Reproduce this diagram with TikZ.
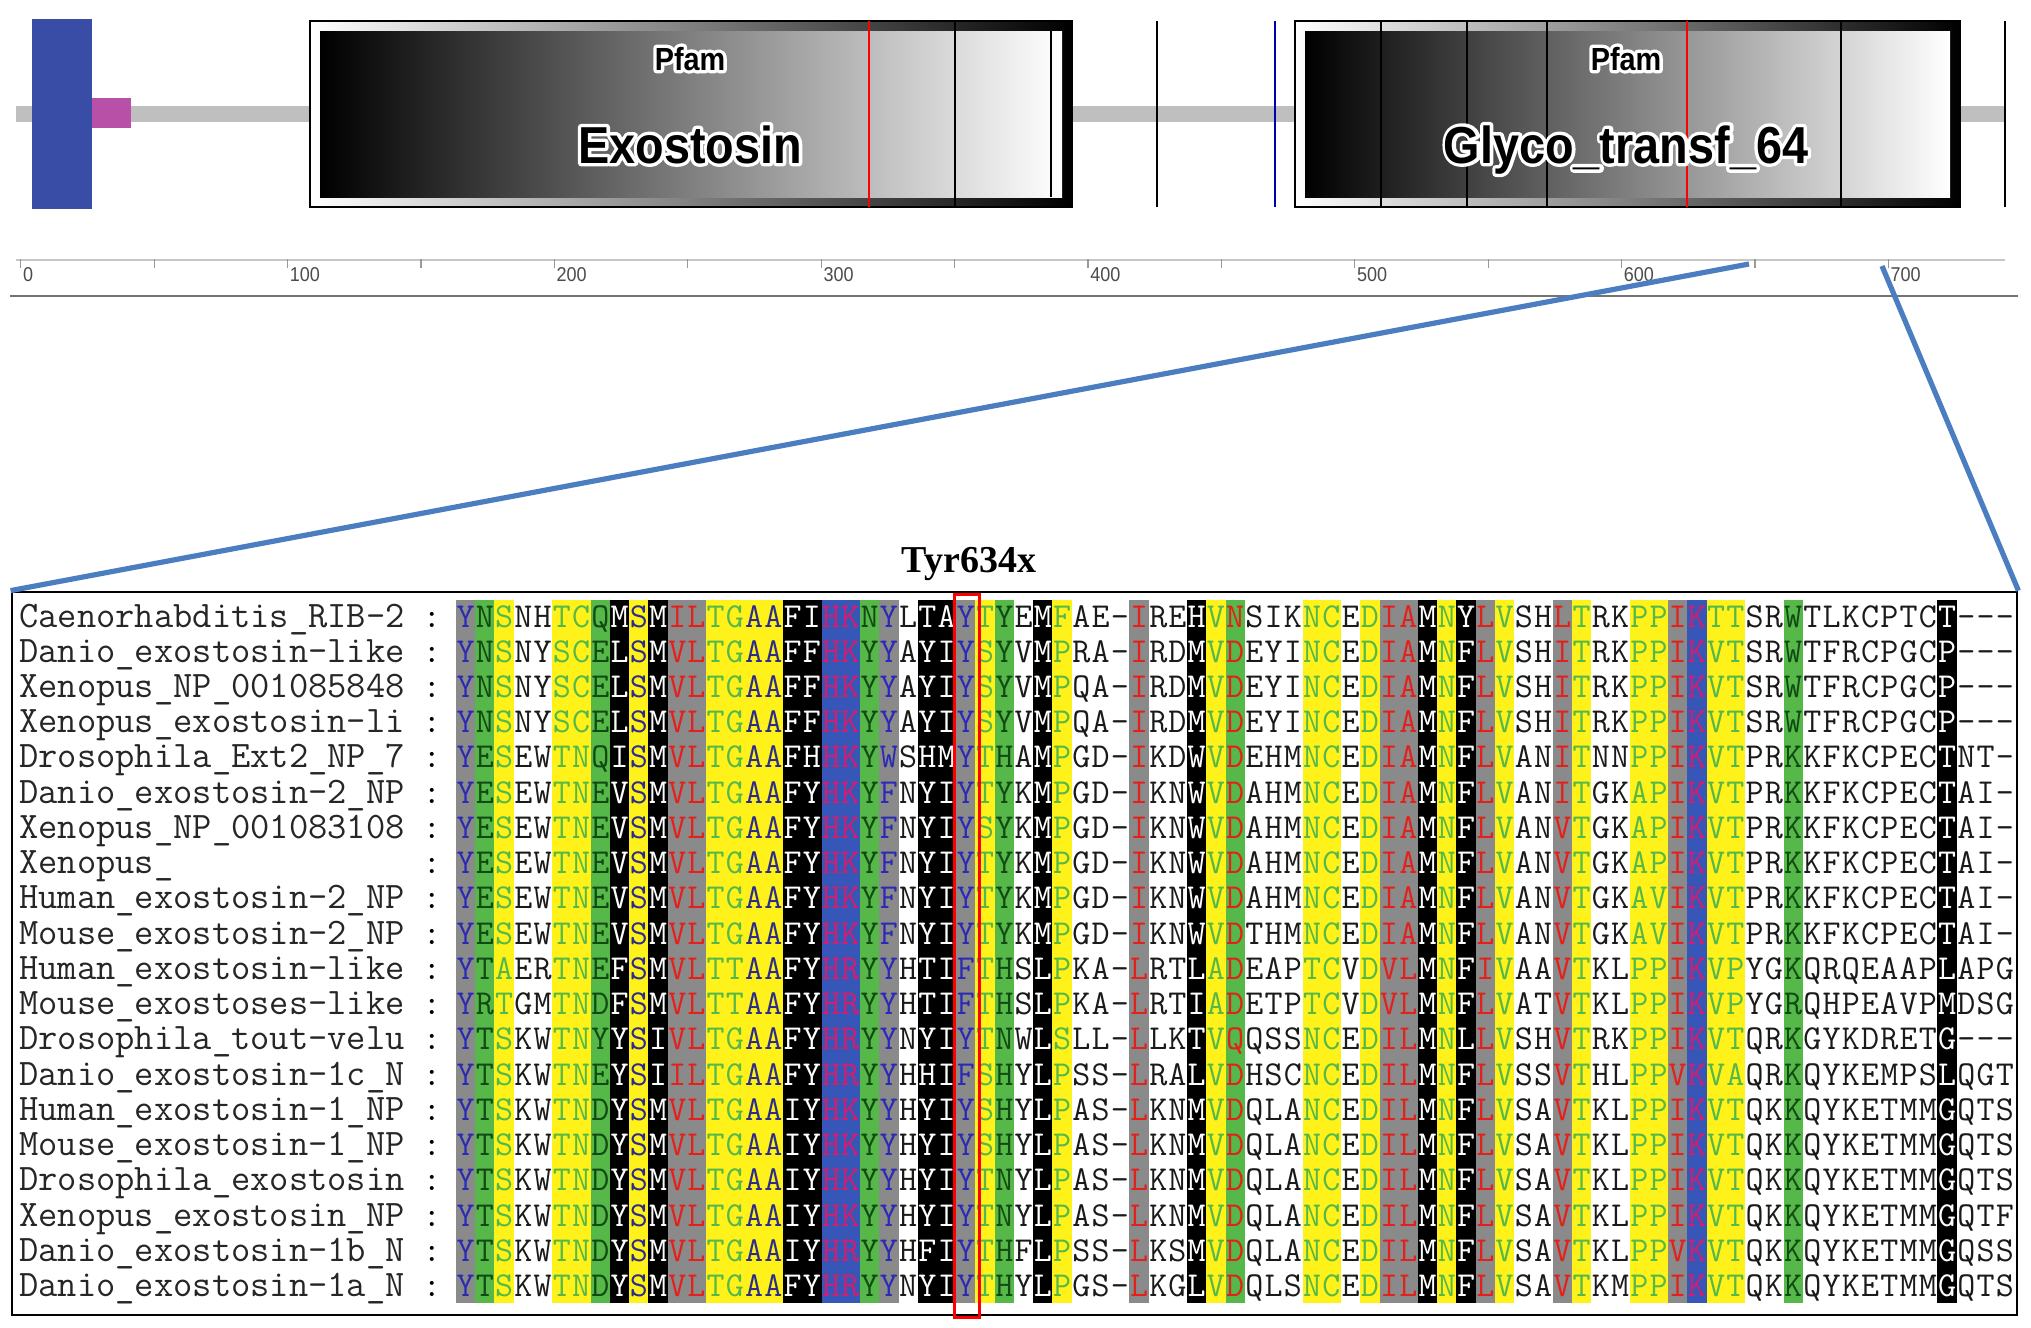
\documentclass[tikz,border=0pt]{standalone}
\usepackage{fontspec}
\setmainfont{Liberation Serif}
\setsansfont{Liberation Sans}
\newfontfamily\domfont[FakeStretch=0.9]{Liberation Sans}
\usetikzlibrary{positioning,calc}

% column shading
\definecolor{gy}{HTML}{8A8A8A}
\definecolor{gn}{HTML}{55B848}
\definecolor{yl}{HTML}{FFF21A}
\definecolor{wh}{HTML}{FFFFFF}
\definecolor{bk}{HTML}{000000}
\definecolor{bl}{HTML}{3656B8}
% residue letters
\definecolor{tb}{HTML}{2A2AB4}
\definecolor{tr}{HTML}{E3201B}
\definecolor{tg}{HTML}{55B848}
\definecolor{td}{HTML}{124A14}
\definecolor{tn}{HTML}{2C2C8C}
\definecolor{tp}{HTML}{D21E6E}
\definecolor{tw}{HTML}{FFFFFF}
\definecolor{tk}{HTML}{1A1A1A}
% top panel
\definecolor{tmblue}{HTML}{3A4DA6}
\definecolor{sigpink}{HTML}{B850A8}
\definecolor{zoomblue}{HTML}{4A7EC0}

\tikzset{domframe/.style={draw=black,line width=0.6pt,left color=white,right color=black},
         domcore/.style={left color=black,right color=white},
         siteline/.style={line width=1pt},
         zoomline/.style={draw=zoomblue,line width=2.6pt},
         res/.style={font=\ttfamily\fontsize{17.5}{17.5}\selectfont,inner sep=0pt,anchor=base},
         seqname/.style={font=\ttfamily\fontsize{18.7}{18.7}\selectfont,inner sep=0pt,anchor=base west,text=black!85},
         axlabel/.style={font=\domfont\fontsize{10}{10}\selectfont,inner sep=0pt,anchor=west,text=black!70}
}

\newcount\rescol
\def\readres#1{%
  \ifx\relax#1\else
    \global\advance\rescol by 1
    \edef\curfg{\csname fgc\the\rescol\endcsname}%
    \node[res,text=\curfg] (res-\r-\the\rescol) at (446.38+19.24*\the\rescol,\rowy) {#1};%
    \expandafter\readres
  \fi}

% white halo under the domain names
\newcommand\glowlabel[4]{%
  \node[font=#3,anchor=base,inner sep=0pt,text=white] at (#2) {\special{pdf:literal direct 1 Tr 3.4 w 1 j}#4\special{pdf:literal direct 0 Tr}};
  \node[font=#3,anchor=base,inner sep=0pt] (#1) at (#2) {#4};
}

\begin{document}
\begin{tikzpicture}[x=0.5pt,y=-0.5pt]
  \useasboundingbox (0,0) rectangle (2031,1328);
  \fill[white] (0,0) rectangle (2031,1328);

  % protein backbone and domains
  \fill[gray!50] (16,106) rectangle (2005,122);
  \fill[tmblue] (32,19) rectangle (92,209);
  \fill[sigpink] (92,98) rectangle (131,128);

  \draw[domframe] (310,21) rectangle (1072,207);
  \shade[domcore] (320,31) rectangle (1062,197);
  \draw[siteline,red] (869,21) -- (869,207);
  \draw[siteline] (955,21) -- (955,207);
  \draw[siteline] (1051,31) -- (1051,197);

  \draw[domframe] (1295,21) rectangle (1960,207);
  \shade[domcore] (1305,31) rectangle (1950,197);
  \foreach \xl in {1381,1467,1547,1841}
    \draw[siteline] (\xl,21) -- (\xl,207);
  \draw[siteline,red] (1687,21) -- (1687,207);

  \draw[siteline] (1157,21) -- (1157,207);
  \draw[siteline,blue!70!black] (1275,21) -- (1275,207);
  \draw[siteline] (2005,21) -- (2005,207);

  \glowlabel{pfamA}{690,70}{\domfont\bfseries\fontsize{16}{16}\selectfont}{Pfam}
  \glowlabel{exo}{690,163}{\domfont\bfseries\fontsize{26}{26}\selectfont}{Exostosin}
  \glowlabel{pfamB}{1626,70}{\domfont\bfseries\fontsize{16}{16}\selectfont}{Pfam}
  \glowlabel{glyco}{1626,163}{\domfont\bfseries\fontsize{26}{26}\selectfont}{Glyco\_transf\_64}

  % ruler
  \draw[gray!45,line width=0.6pt] (16,260) -- (2005,260);
  \foreach \n in {0,50,...,700}
    \draw[gray!80,line width=0.6pt] (20.7+2.668*\n,259) -- (20.7+2.668*\n,268);
  \foreach \n in {0,100,...,700}
    \node[axlabel] (ax\n) at (22.7+2.668*\n,275) {\n};
  \draw[black!55,line width=1.2pt] (10,296) -- (2018,296);

  % alignment panel
  \node[draw=black,line width=1.4pt,fill=white,minimum width=1002.5pt,minimum height=361.5pt,inner sep=0pt] (alnbox) at (1014.5,953.5) {};

  \foreach \bg/\fg [count=\i] in {gy/tb,gn/td,yl/tg,wh/tk,wh/tk,yl/tg,yl/tg,gn/td,bk/tw,yl/tn,
      bk/tw,gy/tr,gy/tr,yl/tg,yl/tg,yl/tn,yl/tn,bk/tw,bk/tw,bl/tp,
      bl/tp,gn/td,gy/tb,wh/tk,bk/tw,bk/tw,gy/tb,yl/tg,gn/td,wh/tk,
      bk/tw,yl/tg,wh/tk,wh/tk,wh/tk,gy/tr,wh/tk,wh/tk,bk/tw,yl/tg,
      gn/tr,wh/tk,wh/tk,wh/tk,yl/tg,yl/tg,wh/tk,yl/tg,gy/tr,gy/tr,
      bk/tw,yl/tg,bk/tw,gy/tr,yl/tg,wh/tk,wh/tk,gy/tr,yl/tg,wh/tk,
      wh/tk,yl/tg,yl/tg,gy/tr,bl/tp,yl/tg,yl/tg,wh/tk,wh/tk,gn/td,
      wh/tk,wh/tk,wh/tk,wh/tk,wh/tk,wh/tk,wh/tk,bk/tw,wh/tk,wh/tk,
      wh/tk} {
    \fill[\bg] (436.76+19.24*\i,600) rectangle ++(19.24,703);
    \expandafter\xdef\csname fgc\i\endcsname{\fg}
  }

  \foreach \nm/\sq [count=\r] in {
      Caenorhabditis\_RIB-2/YNSNHTCQMSMILTGAAFIHKNYLTAYTYEMFAE-IREHVNSIKNCEDIAMNYLVSHLTRKPPIKTTSRWTLKCPTCT---,
      Danio\_exostosin-like/YNSNYSCELSMVLTGAAFFHKYYAYIYSYVMPRA-IRDMVDEYINCEDIAMNFLVSHITRKPPIKVTSRWTFRCPGCP---,
      Xenopus\_NP\_001085848/YNSNYSCELSMVLTGAAFFHKYYAYIYSYVMPQA-IRDMVDEYINCEDIAMNFLVSHITRKPPIKVTSRWTFRCPGCP---,
      Xenopus\_exostosin-li/YNSNYSCELSMVLTGAAFFHKYYAYIYSYVMPQA-IRDMVDEYINCEDIAMNFLVSHITRKPPIKVTSRWTFRCPGCP---,
      Drosophila\_Ext2\_NP\_7/YESEWTNQISMVLTGAAFHHKYWSHMYTHAMPGD-IKDWVDEHMNCEDIAMNFLVANITNNPPIKVTPRKKFKCPECTNT-,
      Danio\_exostosin-2\_NP/YESEWTNEVSMVLTGAAFYHKYFNYIYTYKMPGD-IKNWVDAHMNCEDIAMNFLVANITGKAPIKVTPRKKFKCPECTAI-,
      Xenopus\_NP\_001083108/YESEWTNEVSMVLTGAAFYHKYFNYIYSYKMPGD-IKNWVDAHMNCEDIAMNFLVANVTGKAPIKVTPRKKFKCPECTAI-,
      Xenopus\_/YESEWTNEVSMVLTGAAFYHKYFNYIYTYKMPGD-IKNWVDAHMNCEDIAMNFLVANVTGKAPIKVTPRKKFKCPECTAI-,
      Human\_exostosin-2\_NP/YESEWTNEVSMVLTGAAFYHKYFNYIYTYKMPGD-IKNWVDAHMNCEDIAMNFLVANVTGKAVIKVTPRKKFKCPECTAI-,
      Mouse\_exostosin-2\_NP/YESEWTNEVSMVLTGAAFYHKYFNYIYTYKMPGD-IKNWVDTHMNCEDIAMNFLVANVTGKAVIKVTPRKKFKCPECTAI-,
      Human\_exostosin-like/YTAERTNEFSMVLTTAAFYHRYYHTIFTHSLPKA-LRTLADEAPTCVDVLMNFIVAAVTKLPPIKVPYGKQRQEAAPLAPG,
      Mouse\_exostoses-like/YRTGMTNDFSMVLTTAAFYHRYYHTIFTHSLPKA-LRTIADETPTCVDVLMNFLVATVTKLPPIKVPYGRQHPEAVPMDSG,
      Drosophila\_tout-velu/YTSKWTNYYSIVLTGAAFYHRYYNYIYTNWLSLL-LLKTVQQSSNCEDILMNLLVSHVTRKPPIKVTQRKGYKDRETG---,
      Danio\_exostosin-1c\_N/YTSKWTNEYSIILTGAAFYHRYYHHIFSHYLPSS-LRALVDHSCNCEDILMNFLVSSVTHLPPVKVAQRKQYKEMPSLQGT,
      Human\_exostosin-1\_NP/YTSKWTNDYSMVLTGAAIYHKYYHYIYSHYLPAS-LKNMVDQLANCEDILMNFLVSAVTKLPPIKVTQKKQYKETMMGQTS,
      Mouse\_exostosin-1\_NP/YTSKWTNDYSMVLTGAAIYHKYYHYIYSHYLPAS-LKNMVDQLANCEDILMNFLVSAVTKLPPIKVTQKKQYKETMMGQTS,
      Drosophila\_exostosin/YTSKWTNDYSMVLTGAAIYHKYYHYIYTNYLPAS-LKNMVDQLANCEDILMNFLVSAVTKLPPIKVTQKKQYKETMMGQTS,
      Xenopus\_exostosin\_NP/YTSKWTNDYSMVLTGAAIYHKYYHYIYTNYLPAS-LKNMVDQLANCEDILMNFLVSAVTKLPPIKVTQKKQYKETMMGQTF,
      Danio\_exostosin-1b\_N/YTSKWTNDYSMVLTGAAIYHRYYHFIYTHFLPSS-LKSMVDQLANCEDILMNFLVSAVTKLPPVKVTQKKQYKETMMGQSS,
      Danio\_exostosin-1a\_N/YTSKWTNDYSMVLTGAAFYHRYYNYIYTHYLPGS-LKGLVDQLSNCEDILMNFLVSAVTKMPPIKVTQKKQYKETMMGQTS} {
    \pgfmathsetmacro\rowy{627+35.24*(\r-1)}
    \node[seqname] (name\r) at (19,\rowy) {\nm};
    \node[res] (colon\r) at (432,\rowy) {:};
    \global\rescol=0
    \expandafter\readres\sq\relax
  }

  % mutated site
  \node[draw=red,line width=1.5pt,minimum width=12.5pt,minimum height=361.5pt,inner sep=0pt] (tyrbox) at (966.5,955.5) {};
  \node[font=\bfseries\fontsize{19}{19}\selectfont,anchor=base] (tyr) at (969,572) {Tyr634x};

  % zoom connectors
  \coordinate (zoomfrom) at (1749,264);
  \coordinate (zoomto) at (1882,266);
  \draw[zoomline] (zoomfrom) -- (alnbox.north west);
  \draw[zoomline] (zoomto) -- (alnbox.north east);
\end{tikzpicture}
\end{document}
